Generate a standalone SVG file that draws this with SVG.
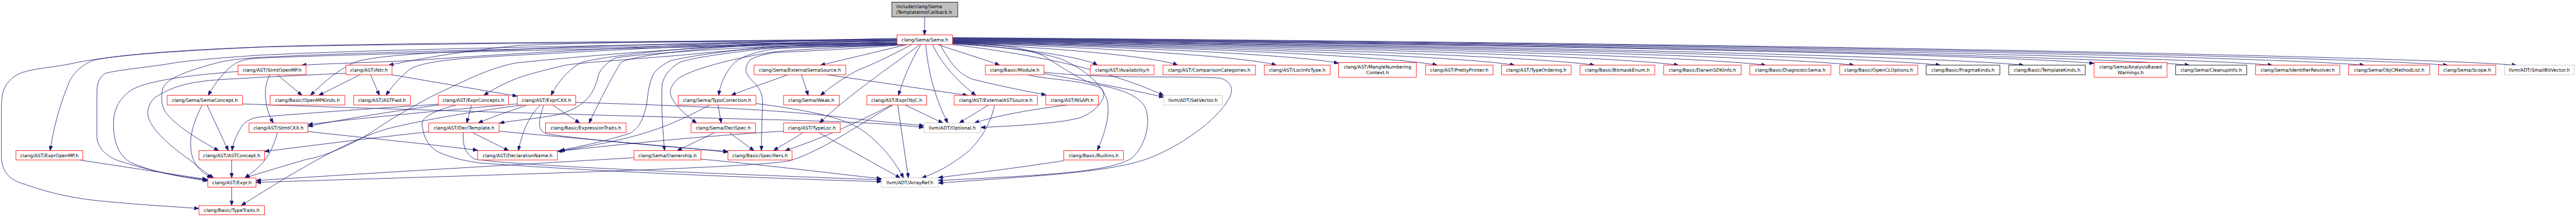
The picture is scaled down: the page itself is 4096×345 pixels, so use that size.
<svg xmlns="http://www.w3.org/2000/svg" width="4096" height="345" viewBox="0 0 4096 345">
<style>
.n rect{fill:#fff;stroke-width:1.3}
.r rect{stroke:#ff0000}
.k rect{stroke:#000}
.g rect{stroke:#bfbfbf}
.root rect{fill:#bfbfbf;stroke:#000}
text{font-family:"DejaVu Sans","Liberation Sans",sans-serif;font-size:12.7px;fill:#000;text-anchor:middle}
.root text{text-anchor:start}
#edges path{fill:none;stroke:#191970;stroke-width:1.3;marker-end:url(#a)}
</style>
<defs>
<marker id="a" markerUnits="userSpaceOnUse" markerWidth="13" markerHeight="10" refX="13" refY="5" orient="auto" viewBox="0 0 13 10">
<path d="M0,0 L13,5 L0,10 z" fill="#191970" stroke="#191970"/>
</marker>
</defs>
<rect width="4096" height="345" fill="#fff"/>
<g transform="scale(0.58573)">
<g id="edges">
<path d="M2510,46 V95"/>
<!-- right fan -->
<path d="M2586,119 C2782,130.6 2948,156.7 2979,177"/>
<path d="M2586,118 C2892,129.8 3148,156.4 3197,177"/>
<path d="M2586,117 C3026,129 3395,156 3465,177"/>
<path d="M2586,116 C3110,127 3550,152 3634,172"/>
<path d="M2586,115 C3244,127 3797,155 3902,177"/>
<path d="M2586,114 C3349,127 3990,155 4112,177"/>
<path d="M2586,113 C3458,126 4190,155 4329,177"/>
<path d="M2586,112 C3572,125 4399,154 4557,177"/>
<path d="M2586,111 C3690,124 4617,154 4794,177"/>
<path d="M2586,110 C3810,123 4838,154 5034,177"/>
<path d="M2586,109 C3927,123 5053,153 5268,177"/>
<path d="M2586,108 C4040,122 5261,153 5494,177"/>
<path d="M2586,107 C4136,120 5437,149 5685,172"/>
<path d="M2586,106 C4265,120 5675,152 5944,177"/>
<path d="M2586,105 C4378,119 5882,152 6169,177"/>
<path d="M2586,104 C4503,119 6112,151 6419,177"/>
<path d="M2586,103 C4616,118 6320,151 6645,177"/>
<path d="M2586,102 C4709,117 6492,151 6832,177"/>
<!-- near right -->
<path d="M2546,121 C2600,140 2670,160 2714,177"/>
<path d="M2552,121 C2580,170 2600,200 2640,215 C2720,235 2790,248 2840,258"/>
<path d="M2586,117 C2700,125 2800,135 2880,160 C2950,190 2990,230 3005,270 C3015,310 3000,360 2979,408"/>
<path d="M2586,121 C2750,140 2900,170 3000,200 C3080,225 3130,245 3159,259"/>
<path d="M2834,200 C2950,220 3080,245 3159,264"/>
<path d="M2586,112 C2700,120 2780,128 2830,150 C2880,180 2920,210 2968,228 C3040,240 3100,260 3112,300 C3125,350 3100,410 3068,432 C3000,470 2800,477 2547,490"/>
<path d="M2834,196 C3000,215 3200,205 3313,212 C3345,222 3350,245 3335,270 C3300,330 3200,400 3112,432 C3000,470 2800,478 2547,497"/>
<path d="M2790,203 C2830,215 2950,218 2990,240 C3010,262 2980,300 2934,319 C2880,335 2750,342 2662,346"/>
<path d="M2897,285 C2800,297 2700,315 2645,334"/>
<path d="M2888,436 C2800,450 2650,470 2547,482"/>
<!-- near center -->
<path d="M2513,121 C2520,200 2540,270 2573,334"/>
<path d="M2500,121 C2470,170 2450,220 2439,259"/>
<path d="M2497,121 C2420,180 2300,260 2225,334"/>
<path d="M2475,121 C2420,150 2380,170 2330,190 C2290,210 2250,240 2227,259"/>
<path d="M2462,121 L2227,177"/>
<path d="M2531,121 C2560,180 2600,220 2649,259"/>
<path d="M2176,203 L2194,259"/>
<path d="M2247,203 L2627,259"/>
<path d="M2683,285 L2604,334"/>
<path d="M2700,285 C2690,330 2670,370 2630,410 C2580,450 2540,470 2502,483"/>
<path d="M2457,285 L2560,334"/>
<path d="M2437,285 L2466,483"/>
<path d="M2421,285 C2350,320 2250,370 2131,409"/>
<path d="M2423,285 C2330,340 2230,410 2145,436 C2050,455 1500,470 695,495"/>
<path d="M2223,360 L2444,483"/>
<path d="M2180,360 C2150,380 2120,395 2100,409"/>
<path d="M2127,356 C1900,370 1700,390 1513,411"/>
<!-- Sema left fan, middle -->
<path d="M2460,121 C2300,125 2150,128 2100,133 C2030,145 2000,160 1985,180 C1965,205 1955,230 1951,259"/>
<path d="M2138,203 C2080,225 2030,240 1985,259"/>
<path d="M1949,285 L1958,334"/>
<path d="M1927,285 C1860,320 1800,350 1700,375 C1640,390 1580,400 1520,410"/>
<path d="M2052,281 C2200,300 2300,320 2350,360 C2400,400 2430,440 2453,483"/>
<path d="M1940,360 L1838,409"/>
<path d="M1980,360 L2047,409"/>
<path d="M1903,432 C2100,450 2250,470 2393,485"/>
<path d="M1721,428 C1400,447 1000,470 695,490"/>
<path d="M2440,121 C2300,128 2150,135 2100,141 C1950,165 1870,195 1846,210 C1825,225 1815,245 1822,262 C1835,290 1860,310 1891,334"/>
<path d="M2445,121 C2300,126 2200,128 2100,130 C1950,145 1870,160 1846,169 C1810,190 1797,215 1797,240 C1795,300 1800,360 1804,409"/>
<path d="M2450,121 C2300,124 2200,125 2100,126 C1950,140 1860,155 1820,165 C1790,180 1775,195 1770,210 C1755,250 1760,270 1753,293 C1745,330 1730,350 1712,361 C1640,385 1560,400 1520,409"/>
<path d="M2455,121 C2300,135 2150,140 2100,143 C2070,148 2050,155 2038,161 C2025,175 2022,190 2027,199 C2035,215 2045,222 2052,229 C2065,245 2072,260 2070,290 C2068,340 2067,380 2067,409"/>
<path d="M2435,119 C2300,120 2150,120 2100,120 C1900,130 1720,150 1686,169 C1660,210 1630,270 1599,334"/>
<path d="M2435,117 C2300,118 2200,118 2100,118 C1900,125 1650,150 1579,169 C1540,190 1510,230 1496,259"/>
<path d="M2435,120 C2300,121 2200,124 2100,126 C1900,135 1700,150 1668,158 C1640,175 1625,195 1623,210 C1615,240 1605,258 1590,272 C1570,292 1540,305 1510,312 C1460,322 1400,326 1356,334"/>
<path d="M2435,114 C2200,118 2000,135 1846,150 C1700,162 1580,170 1534,177 C1480,190 1420,205 1400,214 C1360,230 1335,245 1313,259"/>
<path d="M1500,285 L1574,334"/>
<path d="M1467,285 C1440,310 1420,350 1407,409"/>
<path d="M1476,285 C1465,320 1455,350 1480,362 C1530,372 1700,390 1976,411"/>
<path d="M1430,285 C1400,297 1340,315 1298,334"/>
<path d="M1404,282 C1200,300 1000,318 836,338"/>
<path d="M1563,278 C1800,285 2100,295 2300,320 C2400,332 2460,336 2508,341"/>
<path d="M658,282 C1000,295 1800,318 2100,325 C2300,330 2420,336 2508,346"/>
<path d="M1280,285 L1267,334"/>
<path d="M1190,285 C1050,305 950,320 836,343"/>
<path d="M1283,360 L1381,409"/>
<path d="M1164,358 C1000,375 850,395 718,411"/>
<path d="M1355,356 C1500,370 1800,395 1976,413"/>
<path d="M836,357 C1000,375 1200,395 1297,408"/>
<path d="M1238,285 C1180,300 1140,320 1146,340 C1150,376 1165,400 1191,413 C1230,430 1260,436 1300,442 C1600,465 2100,485 2393,493"/>
<path d="M1258,360 C1255,390 1262,420 1290,432 C1400,450 1900,470 2393,488"/>
<path d="M1420,285 C1300,300 1150,325 1050,350 C950,380 850,440 780,480 C740,505 690,535 655,558"/>
<path d="M2435,111 C2000,116 1600,150 1400,171 C1330,185 1280,210 1169,263 C1100,300 1050,330 1012,357 C950,395 880,425 834,432 C780,448 720,465 665,483"/>
<!-- far left -->
<path d="M2435,108 C1800,112 900,118 700,128 C450,140 300,150 192,173 C120,188 60,185 30,215 C5,240 4,260 4,300 L4,424 C4,470 30,490 67,500 C150,530 220,540 268,545 C380,556 460,560 540,566"/>
<path d="M2435,110 C1600,115 900,122 700,128 C500,135 300,150 250,165 C215,180 195,205 187,225 C160,290 145,350 136,409"/>
<path d="M214,434 L562,487"/>
<path d="M2435,113 C1700,120 1000,135 700,150 C600,157 500,165 460,173 C380,185 320,190 286,199 C270,210 263,225 263,250 L263,370 C263,400 290,425 321,436 C400,462 480,478 564,491"/>
<path d="M646,194 C500,205 400,220 357,244 C320,270 308,300 308,338 C308,380 320,420 353,440 C420,470 500,482 564,488"/>
<path d="M939,199 C800,205 700,210 600,216 C500,222 460,240 420,265 C400,285 395,310 410,335 C430,370 480,410 513,432 C540,455 560,470 580,483"/>
<path d="M2435,116 C1700,125 1000,140 700,156 C640,160 610,165 580,173 C500,195 450,215 442,240 C435,270 440,290 450,305 C475,340 540,380 594,409"/>
<path d="M2435,118 C1800,128 1000,145 700,158 C670,160 650,165 638,173 C610,190 585,225 565,259"/>
<path d="M562,285 L620,409"/>
<path d="M549,285 C525,330 515,370 518,400 C520,440 540,465 575,483"/>
<path d="M1190,283 C1000,295 800,310 700,318 C680,322 665,330 655,345 C640,370 632,390 630,409"/>
<path d="M629,434 V483"/>
<path d="M629,508 V558"/>
<path d="M753,360 C745,390 730,430 700,455 C690,465 675,475 665,483"/>
<!-- StmtOpenMP / Attr -->
<path d="M2435,104 C1900,115 1300,150 1146,163 C1000,170 880,173 818,177"/>
<path d="M2435,106 C1900,110 1500,118 1400,124 C1250,140 1146,158 1055,177"/>
<path d="M2435,107 C1900,115 1500,128 1400,135 C1200,140 1012,150 960,170 C920,190 880,220 843,259"/>
<path d="M2435,109 C1900,120 1600,140 1400,150 C1250,158 1146,165 1110,190 C1080,215 1060,240 1048,259"/>
<path d="M733,203 C715,230 715,290 742,334"/>
<path d="M753,203 L820,259"/>
<path d="M977,203 L865,259"/>
<path d="M1006,203 L1030,259"/>
<path d="M1064,203 L1404,261"/>
</g>
<g id="n-root" class="n root"><rect x="2421" y="6" width="179" height="40"/><text x="2433" y="22">include/clang/Sema</text><text x="2433" y="37">/TemplateInstCallback.h</text></g>
<g id="n-sema" class="n r"><rect x="2435" y="95" width="151" height="26"/><text x="2510.5" y="112.5">clang/Sema/Sema.h</text></g>
<g id="n-stmtopenmp" class="n r"><rect x="646" y="177" width="185" height="26"/><text x="738.5" y="194.5">clang/AST/StmtOpenMP.h</text></g>
<g id="n-attr" class="n r"><rect x="939" y="177" width="125" height="26"/><text x="1001.5" y="194.5">clang/AST/Attr.h</text></g>
<g id="n-extsemasrc" class="n r"><rect x="2047" y="177" width="249" height="26"/><text x="2171.5" y="194.5">clang/Sema/ExternalSemaSource.h</text></g>
<g id="n-module" class="n r"><rect x="2675" y="177" width="159" height="26"/><text x="2754.5" y="194.5">clang/Basic/Module.h</text></g>
<g id="n-availability" class="n r"><rect x="2960" y="177" width="173" height="26"/><text x="3046.5" y="194.5">clang/AST/Availability.h</text></g>
<g id="n-compcat" class="n r"><rect x="3157" y="177" width="251" height="26"/><text x="3282.5" y="194.5">clang/AST/ComparisonCategories.h</text></g>
<g id="n-locinfo" class="n r"><rect x="3432" y="177" width="179" height="26"/><text x="3521.5" y="194.5">clang/AST/LocInfoType.h</text></g>
<g id="n-mangle" class="n r"><rect x="3634" y="170" width="211" height="40"/><text x="3739.5" y="186">clang/AST/MangleNumbering</text><text x="3739.5" y="201">Context.h</text></g>
<g id="n-pretty" class="n r"><rect x="3870" y="177" width="183" height="26"/><text x="3961.5" y="194.5">clang/AST/PrettyPrinter.h</text></g>
<g id="n-typeord" class="n r"><rect x="4076" y="177" width="189" height="26"/><text x="4170.5" y="194.5">clang/AST/TypeOrdering.h</text></g>
<g id="n-bitmask" class="n r"><rect x="4289" y="177" width="203" height="26"/><text x="4390.5" y="194.5">clang/Basic/BitmaskEnum.h</text></g>
<g id="n-darwin" class="n r"><rect x="4516" y="177" width="211" height="26"/><text x="4621.5" y="194.5">clang/Basic/DarwinSDKInfo.h</text></g>
<g id="n-diagsema" class="n r"><rect x="4750" y="177" width="220" height="26"/><text x="4860" y="194.5">clang/Basic/DiagnosticSema.h</text></g>
<g id="n-opencl" class="n r"><rect x="4994" y="177" width="212" height="26"/><text x="5100" y="194.5">clang/Basic/OpenCLOptions.h</text></g>
<g id="n-pragma" class="n k"><rect x="5229" y="177" width="200" height="26"/><text x="5329" y="194.5">clang/Basic/PragmaKinds.h</text></g>
<g id="n-templkinds" class="n k"><rect x="5453" y="177" width="208" height="26"/><text x="5557" y="194.5">clang/Basic/TemplateKinds.h</text></g>
<g id="n-analysis" class="n r"><rect x="5685" y="170" width="198" height="40"/><text x="5784" y="186">clang/Sema/AnalysisBased</text><text x="5784" y="201">Warnings.h</text></g>
<g id="n-cleanup" class="n k"><rect x="5906" y="177" width="193" height="26"/><text x="6002.5" y="194.5">clang/Sema/CleanupInfo.h</text></g>
<g id="n-identres" class="n r"><rect x="6123" y="177" width="229" height="26"/><text x="6237.5" y="194.5">clang/Sema/IdentifierResolver.h</text></g>
<g id="n-objcml" class="n r"><rect x="6376" y="177" width="220" height="26"/><text x="6486" y="194.5">clang/Sema/ObjCMethodList.h</text></g>
<g id="n-scope" class="n r"><rect x="6620" y="177" width="155" height="26"/><text x="6697.5" y="194.5">clang/Sema/Scope.h</text></g>
<g id="n-smallbv" class="n g"><rect x="6799" y="177" width="189" height="26"/><text x="6893.5" y="194.5">llvm/ADT/SmallBitVector.h</text></g>
<g id="n-semaconcept" class="n r"><rect x="454" y="259" width="204" height="26"/><text x="556" y="276.5">clang/Sema/SemaConcept.h</text></g>
<g id="n-openmpkinds" class="n r"><rect x="733" y="259" width="203" height="26"/><text x="834.5" y="276.5">clang/Basic/OpenMPKinds.h</text></g>
<g id="n-astfwd" class="n r"><rect x="960" y="259" width="154" height="26"/><text x="1037" y="276.5">clang/AST/ASTFwd.h</text></g>
<g id="n-exprconcepts" class="n r"><rect x="1190" y="259" width="190" height="26"/><text x="1285" y="276.5">clang/AST/ExprConcepts.h</text></g>
<g id="n-exprcxx" class="n r"><rect x="1404" y="259" width="159" height="26"/><text x="1483.5" y="276.5">clang/AST/ExprCXX.h</text></g>
<g id="n-typo" class="n r"><rect x="1841" y="259" width="211" height="26"/><text x="1946.5" y="276.5">clang/Sema/TypoCorrection.h</text></g>
<g id="n-weak" class="n r"><rect x="2127" y="259" width="151" height="26"/><text x="2202.5" y="276.5">clang/Sema/Weak.h</text></g>
<g id="n-exprobjc" class="n r"><rect x="2353" y="259" width="163" height="26"/><text x="2434.5" y="276.5">clang/AST/ExprObjC.h</text></g>
<g id="n-extastsrc" class="n r"><rect x="2590" y="259" width="226" height="26"/><text x="2703" y="276.5">clang/AST/ExternalASTSource.h</text></g>
<g id="n-nsapi" class="n r"><rect x="2839" y="259" width="143" height="26"/><text x="2910.5" y="276.5">clang/AST/NSAPI.h</text></g>
<g id="n-setvector" class="n g"><rect x="3159" y="259" width="159" height="26"/><text x="3238.5" y="276.5">llvm/ADT/SetVector.h</text></g>
<g id="n-stmtcxx" class="n r"><rect x="676" y="334" width="160" height="26"/><text x="756" y="351.5">clang/AST/StmtCXX.h</text></g>
<g id="n-decltemplate" class="n r"><rect x="1164" y="334" width="191" height="26"/><text x="1259.5" y="351.5">clang/AST/DeclTemplate.h</text></g>
<g id="n-exprtraits" class="n r"><rect x="1481" y="334" width="219" height="26"/><text x="1590.5" y="351.5">clang/Basic/ExpressionTraits.h</text></g>
<g id="n-declspec" class="n r"><rect x="1876" y="334" width="175" height="26"/><text x="1963.5" y="351.5">clang/Sema/DeclSpec.h</text></g>
<g id="n-typeloc" class="n r"><rect x="2127" y="334" width="154" height="26"/><text x="2204" y="351.5">clang/AST/TypeLoc.h</text></g>
<g id="n-optional" class="n g"><rect x="2508" y="334" width="154" height="26"/><text x="2585" y="351.5">llvm/ADT/Optional.h</text></g>
<g id="n-expropenmp" class="n r"><rect x="43" y="409" width="182" height="25"/><text x="134" y="426">clang/AST/ExprOpenMP.h</text></g>
<g id="n-astconcept" class="n r"><rect x="540" y="409" width="178" height="25"/><text x="629" y="426">clang/AST/ASTConcept.h</text></g>
<g id="n-declname" class="n r"><rect x="1297" y="409" width="216" height="25"/><text x="1405" y="426">clang/AST/DeclarationName.h</text></g>
<g id="n-ownership" class="n r"><rect x="1721" y="409" width="182" height="25"/><text x="1812" y="426">clang/Sema/Ownership.h</text></g>
<g id="n-specifiers" class="n r"><rect x="1976" y="409" width="174" height="25"/><text x="2063" y="426">clang/Basic/Specifiers.h</text></g>
<g id="n-builtins" class="n r"><rect x="2888" y="409" width="162" height="25"/><text x="2969" y="426">clang/Basic/Builtins.h</text></g>
<g id="n-expr" class="n r"><rect x="564" y="483" width="131" height="25"/><text x="629.5" y="500">clang/AST/Expr.h</text></g>
<g id="n-arrayref" class="n g"><rect x="2393" y="483" width="154" height="25"/><text x="2470" y="500">llvm/ADT/ArrayRef.h</text></g>
<g id="n-typetraits" class="n r"><rect x="540" y="558" width="178" height="25"/><text x="629" y="575">clang/Basic/TypeTraits.h</text></g>
</g>
</svg>
